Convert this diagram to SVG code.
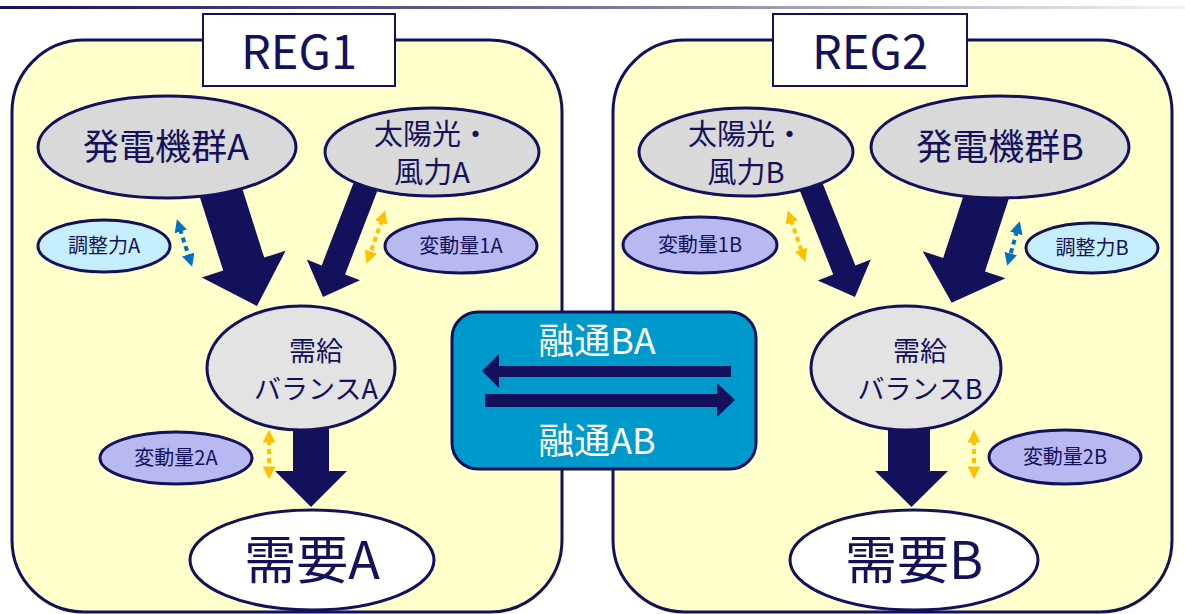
<svg xmlns="http://www.w3.org/2000/svg" width="1185" height="614" viewBox="0 0 1185 614">
<defs>
<linearGradient id="topline" x1="0" y1="0" x2="1" y2="0">
<stop offset="0" stop-color="#13115B"/>
<stop offset="0.5" stop-color="#7E7196"/>
<stop offset="1" stop-color="#F4F4F4"/>
</linearGradient>
<marker id="hb" viewBox="0 0 10 10" refX="2" refY="5" markerWidth="3.2" markerHeight="3.2" orient="auto-start-reverse" markerUnits="strokeWidth">
<path d="M0,0 L10,5 L0,10 Z" fill="#0070C0"/>
</marker>
<marker id="hg" viewBox="0 0 10 10" refX="2" refY="5" markerWidth="3.2" markerHeight="3.2" orient="auto-start-reverse" markerUnits="strokeWidth">
<path d="M0,0 L10,5 L0,10 Z" fill="#FFC000"/>
</marker>
</defs>
<style>
text{font-family:"Noto Sans CJK JP","Noto Sans",sans-serif;fill:#13115B;text-anchor:middle}
.region{fill:#FFFFCC;stroke:#13115B;stroke-width:3}
.label{fill:#FFFFFF;stroke:#13115B;stroke-width:2}
.gen{fill:#D9D9D9;stroke:#13115B;stroke-width:3}
.bal{fill:#E3E3E3;stroke:#13115B;stroke-width:3}
.dem{fill:#FFFFFF;stroke:#13115B;stroke-width:3}
.adj{fill:#C5EEFF;stroke:#13115B;stroke-width:3}
.var{fill:#B9B9F2;stroke:#13115B;stroke-width:3}
.big{fill:#13115B}
.db{fill:none;stroke:#0070C0;stroke-width:4;stroke-dasharray:5 4;marker-start:url(#hb);marker-end:url(#hb)}
.dg{fill:none;stroke:#FFC000;stroke-width:4;stroke-dasharray:5 4;marker-start:url(#hg);marker-end:url(#hg)}
.t34{font-size:36px}
.t28{font-size:29px}
.tb{font-size:27px}
.t18{font-size:20px}
.t44{font-size:52px}
.treg{font-size:47px}
.tw{fill:#FFFFFF;font-size:36px}
</style>
<rect x="0" y="6" width="1185" height="3" fill="url(#topline)"/>

<g id="region1">
<rect class="region" x="12" y="40" width="550" height="572" rx="72" ry="72"/>
</g>
<g id="region2">
<rect class="region" x="613" y="40" width="559" height="572" rx="72" ry="72"/>
</g>

<g id="connectors">
<polygon class="big" points="194.9,181.5 223.2,270.6 201.8,277.4 257,306 285.6,250.8 264.2,257.6 235.9,168.5"/>
<polygon class="big" points="359.5,167.4 321.7,265.4 306.8,259.6 323,297 360,280.2 345.1,274.4 382.9,176.4"/>
<polygon class="big" points="293,420 293,471 275,471 311,507 347,471 329,471 329,420"/>
<polygon class="big" points="796.2,181.5 833.2,274.4 817.8,280.5 855,297 870.8,259.5 855.4,265.6 818.4,172.7"/>
<polygon class="big" points="972.7,167.6 943.2,257.9 922.7,251.2 951.7,302.7 1005.5,278.2 985,271.5 1014.5,181.2"/>
<polygon class="big" points="888,420 888,471 875,471 911.5,507 948,471 930,471 930,420"/>
<line class="db" x1="180" y1="229" x2="189" y2="257"/>
<line class="dg" x1="382" y1="220" x2="370" y2="254"/>
<line class="dg" x1="269" y1="440" x2="269" y2="469"/>
<line class="dg" x1="791" y1="220" x2="802" y2="252"/>
<line class="db" x1="1017" y1="231" x2="1010" y2="256"/>
<line class="dg" x1="974" y1="440" x2="974" y2="469"/>
</g>

<g id="reg1-label">
<rect class="label" x="203" y="14" width="192" height="72"/>
<text class="treg" x="299" y="69">REG1</text>
</g>
<g id="reg2-label">
<rect class="label" x="773" y="14" width="194" height="72"/>
<text class="treg" x="870" y="69">REG2</text>
</g>

<g id="genA">
<ellipse class="gen" cx="167" cy="147" rx="129" ry="51"/>
<text class="t34" x="166" y="160">発電機群A</text>
</g>
<g id="solarA">
<ellipse class="gen" cx="432" cy="152" rx="107" ry="44"/>
<text class="t28" x="432" y="145">太陽光・</text>
<text class="t28" x="432" y="183">風力A</text>
</g>
<g id="adjA">
<ellipse class="adj" cx="104" cy="246" rx="66" ry="26"/>
<text class="t18" x="104" y="253">調整力A</text>
</g>
<g id="var1A">
<ellipse class="var" cx="461" cy="246" rx="76" ry="27"/>
<text class="t18" x="461" y="253">変動量1A</text>
</g>
<g id="balA">
<ellipse class="bal" cx="301" cy="368" rx="94" ry="62"/>
<text class="tb" x="316" y="361">需給</text>
<text class="tb" x="316" y="399">バランスA</text>
</g>
<g id="var2A">
<ellipse class="var" cx="176" cy="458" rx="76" ry="26"/>
<text class="t18" x="176" y="465">変動量2A</text>
</g>
<g id="demA">
<ellipse class="dem" cx="312" cy="560" rx="122" ry="50"/>
<text class="t44" x="312" y="579">需要A</text>
</g>

<g id="interchange">
<rect x="452" y="312" width="304" height="157" rx="26" ry="26" fill="#0099CC" stroke="#13115B" stroke-width="3"/>
<text class="tw" x="597" y="354">融通BA</text>
<text class="tw" x="597" y="454">融通AB</text>
<polygon class="big" points="731,366 499,366 499,354 482,371 499,388 499,377 731,377"/>
<polygon class="big" points="485,394 717,394 717,383 735,400 717,417 717,407 485,407"/>
</g>

<g id="solarB">
<ellipse class="gen" cx="746" cy="152" rx="107" ry="44"/>
<text class="t28" x="746" y="145">太陽光・</text>
<text class="t28" x="746" y="183">風力B</text>
</g>
<g id="genB">
<ellipse class="gen" cx="1000" cy="147" rx="129" ry="51"/>
<text class="t34" x="1000" y="160">発電機群B</text>
</g>
<g id="var1B">
<ellipse class="var" cx="700" cy="245" rx="77" ry="28"/>
<text class="t18" x="700" y="252">変動量1B</text>
</g>
<g id="adjB">
<ellipse class="adj" cx="1092" cy="248" rx="66" ry="25"/>
<text class="t18" x="1092" y="255">調整力B</text>
</g>
<g id="balB">
<ellipse class="bal" cx="906" cy="368" rx="95" ry="62"/>
<text class="tb" x="920" y="361">需給</text>
<text class="tb" x="920" y="399">バランスB</text>
</g>
<g id="var2B">
<ellipse class="var" cx="1065" cy="457" rx="76" ry="27"/>
<text class="t18" x="1065" y="464">変動量2B</text>
</g>
<g id="demB">
<ellipse class="dem" cx="914" cy="560" rx="124" ry="50"/>
<text class="t44" x="914" y="579">需要B</text>
</g>
</svg>
